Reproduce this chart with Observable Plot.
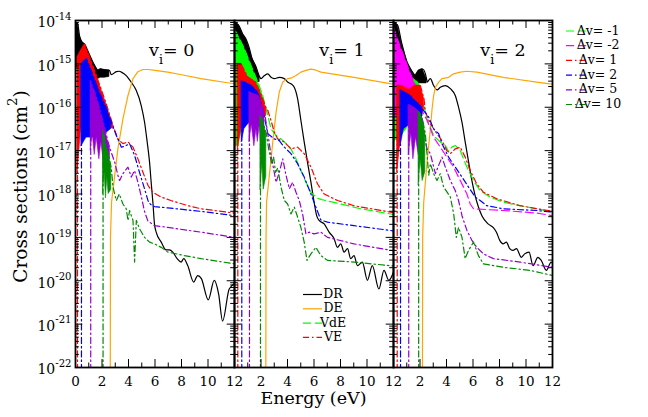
<!DOCTYPE html>
<html>
<head>
<meta charset="utf-8">
<script src="https://cdn.jsdelivr.net/npm/d3@7"></script>
<script src="https://cdn.jsdelivr.net/npm/@observablehq/plot@0.6"></script>
<style>
  body { margin: 0; background: #fff; }
  svg text { font-family: "DejaVu Serif", serif; }
</style>
</head>
<body>
<div id="chart"></div>
<script>
/* Panels v_i = 0, 1, 2 ; energies in eV ; values are log10(cross section / cm^2) */
const panels = [0, 1, 2];
const panelText = ["v_{i}= 0", "v_{i}= 1", "v_{i}= 2"];
const panelTextX = [5.55, 6.4, 6.55];
const xMajor = [0, 2, 4, 6, 8, 10, 12];
const xMinor = [1, 3, 5, 7, 9, 11];
const yDecades = [-22, -21, -20, -19, -18, -17, -16, -15, -14];

/* ---- v_i = 0 ---- */
const dr0Band = [[0,-14.1,-15.0],[0.15,-14.05,-15.1],[0.3,-14.35,-15.1],[0.5,-14.5,-15.2],[0.7,-14.55,-15.25],[1.0,-14.75,-15.3],[1.3,-14.95,-15.35],[1.7,-15.15,-15.35],[1.9,-15.12,-15.32],[2.2,-15.14,-15.32],[2.56,-15.15,-15.3]];
const dr0 = [[2.7,-15.25],[3.08,-15.18],[3.3,-15.17],[3.46,-15.19],[3.83,-15.27],[4.2,-15.42],[4.58,-15.61],[4.96,-15.96],[5.21,-16.34],[5.41,-16.8],[5.59,-17.27],[5.71,-17.73],[5.84,-18.19],[5.96,-18.69],[6.09,-18.88],[6.47,-19.11],[6.84,-19.29],[7.09,-19.29],[7.34,-19.34],[7.67,-19.49],[7.97,-19.57],[8.17,-19.49],[8.47,-19.65],[8.92,-20.03],[9.22,-19.88],[9.5,-19.95],[10.02,-20.44],[10.47,-19.99],[10.8,-20.3],[11.1,-20.93],[11.6,-20.19],[12,-20.07]];
const de0 = [[2.62,-23],[2.64,-19],[2.72,-18.19],[2.96,-17.57],[3.2,-16.96],[3.58,-16.27],[3.96,-15.73],[4.34,-15.34],[4.71,-15.18],[5.09,-15.13],[5.5,-15.13],[6.0,-15.15],[6.97,-15.19],[8.0,-15.25],[9.47,-15.34],[12,-15.46]];
const up1v0Band = [[0.15,-14.85,-17.5],[0.4,-14.7,-16.6],[0.7,-14.55,-16.0],[1.2,-14.95,-16.2],[1.7,-15.38,-16.3],[2.3,-15.9,-16.4],[2.83,-16.42,-16.5]];
const up1v0 = [[3.2,-16.73],[3.58,-16.84],[3.96,-16.8],[4.34,-16.92],[4.71,-17.19],[5.09,-17.5],[5.47,-17.8],[5.84,-17.96],[6.47,-18.07],[7.2,-18.15],[8.5,-18.27],[9.47,-18.34],[12,-18.44]];
const up2v0Band = [[0.45,-15.0,-16.9],[0.83,-14.88,-16.7],[1.3,-15.25,-16.7],[1.8,-15.65,-16.6],[2.3,-16.0,-16.6],[2.7,-16.34,-16.5]];
const up2v0 = [[3.08,-16.65],[3.46,-16.92],[3.7,-16.9],[4.08,-16.84],[4.46,-17.11],[4.83,-17.5],[5.21,-17.88],[5.51,-18.19],[5.71,-18.25],[5.96,-18.29],[6.97,-18.32],[9.47,-18.4],[12,-18.5]];
const up5v0Band = [[1.15,-15.4,-17.0],[1.3,-15.55,-16.6],[1.45,-15.65,-17.1],[1.6,-15.8,-16.7],[1.8,-16.0,-17.2],[1.95,-16.19,-16.8],[2.15,-16.4,-17.3],[2.3,-16.6,-16.9],[2.46,-16.8,-17.3],[2.6,-16.95,-17.2]];
const up5v0 = [[2.96,-17.27],[3.2,-17.57],[3.33,-17.69],[3.58,-17.53],[3.96,-17.38],[4.21,-17.61],[4.46,-17.46],[4.71,-17.73],[4.96,-18.05],[5.21,-18.4],[5.46,-18.62],[5.96,-18.73],[6.97,-18.77],[9.47,-18.88],[12,-19.0]];
const up10v0Band = [[2.08,-16.55,-18.0],[2.2,-16.75,-17.5],[2.3,-16.9,-18.1],[2.4,-17.0,-17.6],[2.5,-17.1,-18.0],[2.7,-17.4,-17.9]];
const up10v0 = [[2.83,-17.84],[3.08,-18.15],[3.3,-18.0],[3.58,-18.23],[3.83,-18.34],[3.96,-18.61],[4.08,-18.38],[4.34,-18.61],[4.46,-19.57],[4.59,-18.61],[4.83,-18.8],[5.21,-19.0],[5.59,-19.11],[5.96,-19.15],[6.47,-19.23],[6.97,-19.34],[8.22,-19.42],[9.47,-19.49],[12,-19.61]];

/* ---- v_i = 1 ---- */
const dr1Band = [[0,-14.05,-15.3],[0.3,-14.1,-15.3],[0.6,-14.3,-15.3],[0.9,-14.45,-15.3],[1.13,-14.65,-15.35],[1.3,-14.85,-15.4],[1.6,-15.05,-15.42],[1.9,-15.3,-15.42]];
const dr1 = [[2.0,-15.34],[2.26,-15.27],[2.51,-15.23],[2.76,-15.31],[3.0,-15.34],[3.38,-15.31],[3.76,-15.34],[4.01,-15.42],[4.26,-15.46],[4.51,-15.54],[4.76,-15.8],[5.01,-16.3],[5.26,-16.8],[5.51,-17.27],[5.77,-17.73],[6.01,-18.19],[6.2,-18.5],[6.39,-18.61],[6.77,-18.69],[7.14,-18.88],[7.52,-19.03],[7.77,-19.23],[8.02,-19.15],[8.27,-19.34],[8.53,-19.26],[8.77,-19.49],[9.02,-19.42],[9.28,-19.65],[9.65,-19.57],[10.03,-19.99],[10.4,-19.65],[10.9,-20.19],[11.28,-19.76],[11.65,-19.99],[12,-19.8]];
const de1 = [[2.36,-23],[2.38,-19],[2.42,-18.19],[2.63,-17.57],[2.89,-16.8],[3.14,-16.11],[3.38,-15.65],[3.64,-15.42],[4.01,-15.34],[4.26,-15.33],[4.64,-15.27],[5.01,-15.19],[5.39,-15.15],[5.76,-15.12],[6.1,-15.14],[6.52,-15.19],[9.02,-15.31],[12,-15.47]];
const dn1v1Band = [[0,-14.2,-16.9],[0.25,-14.35,-16.9],[0.75,-14.65,-16.3],[1.25,-15.04,-16.2],[1.76,-15.42,-16.1],[2.13,-15.73,-16.0]];
const dn1v1 = [[2.51,-16.19],[2.76,-16.5],[3.14,-16.65],[3.51,-16.73],[3.89,-16.84],[4.26,-16.96],[4.64,-17.19],[5.01,-17.46],[5.39,-17.73],[5.76,-17.96],[6.27,-18.1],[6.6,-18.13],[8.02,-18.23],[9.52,-18.34],[12,-18.47]];
const up1v1Band = [[0.25,-15.0,-17.0],[0.5,-15.0,-16.5],[1.0,-15.3,-16.4],[1.6,-15.42,-16.2],[2.0,-15.7,-16.3],[2.4,-16.03,-16.2]];
const up1v1 = [[2.51,-16.07],[2.76,-16.31],[3.0,-16.57],[3.26,-16.73],[3.76,-16.8],[4.26,-16.96],[4.76,-16.92],[5.26,-17.07],[5.77,-17.38],[6.27,-17.77],[6.77,-18.0],[7.77,-18.15],[9.02,-18.27],[10.28,-18.34],[12,-18.43]];
const up2v1Band = [[0.55,-15.4,-16.8],[0.75,-15.42,-16.5],[1.25,-15.5,-16.3],[1.76,-15.65,-16.4],[2.13,-16.03,-16.5]];
const up2v1 = [[2.51,-16.61],[3.0,-16.73],[3.38,-16.77],[3.76,-16.92],[4.26,-17.07],[4.76,-17.3],[5.26,-17.61],[5.77,-18.0],[6.14,-18.3],[6.52,-18.6],[7.02,-18.65],[9.02,-18.73],[12,-18.85]];
const up5v1Band = [[1.13,-15.65,-16.8],[1.3,-15.68,-16.4],[1.5,-15.7,-16.9],[1.65,-15.72,-16.5],[1.76,-15.73,-16.8],[1.9,-15.8,-16.4],[2.0,-15.9,-16.8],[2.26,-16.11,-16.8]];
const up5v1 = [[2.51,-16.6],[2.76,-17.11],[3.14,-17.73],[3.38,-17.5],[3.64,-17.19],[3.89,-17.57],[4.14,-17.88],[4.39,-17.73],[4.64,-17.96],[4.89,-18.15],[5.14,-18.46],[5.39,-18.92],[5.64,-18.88],[6.01,-18.92],[6.52,-18.88],[7.02,-19.0],[9.02,-19.15],[12,-19.31]];
const up10v1Band = [[1.96,-16.2,-17.9],[2.1,-16.3,-17.3],[2.2,-16.4,-17.9],[2.4,-16.6,-17.6]];
const up10v1 = [[2.6,-17.0],[2.8,-17.3],[2.95,-17.15],[3.1,-17.5],[3.26,-17.4],[3.51,-17.84],[3.76,-18.15],[4.01,-18.23],[4.26,-18.46],[4.51,-18.3],[4.76,-18.53],[5.01,-18.77],[5.26,-19.11],[5.47,-19.53],[5.77,-19.38],[6.14,-19.23],[6.52,-19.42],[7.02,-19.53],[9.02,-19.57],[12,-19.66]];

/* ---- v_i = 2 ---- */
const dr2Band = [[0,-14.05,-15.2],[0.3,-14.1,-15.2],[0.6,-14.5,-15.3],[1.03,-14.96,-15.35],[1.28,-15.11,-15.4],[1.65,-15.27,-15.45],[1.9,-15.15,-15.45],[2.2,-15.12,-15.45],[2.5,-15.35,-15.45]];
const dr2 = [[2.53,-15.42],[2.78,-15.34],[3.03,-15.5],[3.29,-15.6],[3.53,-15.54],[3.91,-15.5],[4.29,-15.57],[4.66,-15.73],[4.91,-16.0],[5.17,-16.35],[5.41,-16.8],[5.66,-17.25],[5.92,-17.7],[6.17,-18.05],[6.41,-18.3],[6.67,-18.5],[7.14,-18.69],[7.52,-18.77],[7.77,-18.88],[8.02,-19.07],[8.27,-19.15],[8.52,-19.11],[8.77,-19.26],[9.02,-19.3],[9.28,-19.26],[9.65,-19.46],[9.9,-19.38],[10.23,-19.34],[10.53,-19.65],[10.9,-19.46],[11.15,-19.53],[11.53,-19.76],[11.9,-19.57],[12,-19.6]];
const de2 = [[2.18,-23],[2.2,-19],[2.28,-18.19],[2.53,-17.27],[2.78,-16.5],[2.91,-16.04],[3.03,-15.73],[3.16,-15.54],[3.41,-15.42],[3.66,-15.34],[4.16,-15.31],[4.54,-15.23],[5.04,-15.19],[5.54,-15.17],[6.29,-15.19],[8.29,-15.31],[10.8,-15.42],[12,-15.47]];
const dn1v2Band = [[0,-14.9,-16.8],[0.5,-15.3,-16.7],[1.0,-15.3,-16.5],[1.28,-15.33,-15.6],[1.6,-15.36,-15.6],[1.88,-15.45,-15.6]];
const dn1v2 = [[2.28,-15.96],[2.53,-16.27],[3.03,-16.65],[3.53,-16.8],[3.91,-16.88],[4.16,-17.02],[4.4,-16.92],[4.66,-16.88],[5.04,-17.0],[5.54,-17.38],[6.04,-17.69],[6.54,-17.92],[7.29,-18.07],[8.29,-18.19],[9.55,-18.27],[10.8,-18.34],[12,-18.42]];
const dn2v2Band = [[0,-14.15,-16.3],[0.28,-14.42,-16.2],[0.78,-14.81,-16.0],[1.28,-15.23,-15.9],[1.6,-15.45,-15.8]];
const dn2v2 = [[2.0,-16.0],[2.53,-16.3],[3.03,-16.69],[3.53,-16.92],[4.03,-17.15],[4.54,-17.38],[5.04,-17.69],[5.54,-18.0],[5.79,-18.23],[6.04,-18.34],[6.5,-18.35],[8.29,-18.38],[10.8,-18.44],[12,-18.5]];
const up1v2Band = [[0.28,-15.5,-17.5],[0.6,-15.5,-16.6],[1.2,-15.6,-16.3],[1.6,-15.5,-16.1],[2.03,-15.5,-16.1],[2.3,-15.8,-16.1]];
const up1v2 = [[2.4,-16.1],[2.78,-16.38],[3.28,-16.61],[3.66,-16.77],[4.03,-17.0],[4.29,-17.07],[4.66,-16.96],[5.04,-16.92],[5.41,-17.15],[5.79,-17.46],[6.29,-17.77],[6.79,-17.96],[7.79,-18.11],[9.55,-18.27],[12,-18.4]];
const up2v2Band = [[0.53,-15.6,-16.9],[0.78,-15.65,-16.5],[1.28,-15.73,-16.4],[1.6,-15.85,-16.35],[2.03,-15.96,-16.3],[2.2,-16.05,-16.2]];
const up2v2 = [[2.66,-16.23],[3.03,-16.5],[3.41,-16.61],[3.66,-16.84],[4.16,-17.15],[4.66,-17.38],[5.17,-17.61],[5.66,-17.84],[6.17,-18.07],[6.54,-18.15],[7.04,-18.27],[8.29,-18.34],[10.8,-18.38],[12,-18.42]];
const up5v2Band = [[1.15,-15.95,-17.1],[1.35,-15.97,-16.6],[1.5,-16.0,-17.2],[1.7,-16.05,-16.7],[1.9,-16.1,-17.1],[2.2,-16.3,-17.0]];
const up5v2 = [[2.28,-16.57],[2.53,-16.96],[2.78,-17.07],[3.16,-17.53],[3.41,-17.34],[3.66,-17.15],[3.91,-17.38],[4.29,-17.69],[4.66,-17.92],[4.91,-18.15],[5.17,-18.5],[5.54,-18.84],[5.92,-19.07],[6.29,-19.23],[6.79,-19.38],[7.54,-19.49],[9.55,-19.57],[12,-19.69]];
const up10v2Band = [[1.9,-16.1,-17.8],[2.05,-16.18,-17.2],[2.2,-16.3,-17.7],[2.4,-16.6,-17.5]];
const up10v2 = [[2.66,-17.57],[2.78,-17.3],[3.03,-17.53],[3.28,-17.69],[3.53,-17.53],[3.78,-17.84],[4.29,-18.07],[4.54,-18.45],[4.74,-19.0],[4.91,-18.77],[5.17,-19.0],[5.41,-19.49],[5.66,-19.3],[6.04,-19.11],[6.41,-19.42],[6.79,-19.61],[8.29,-19.69],[10.3,-19.76],[12,-19.88]];

/* series styles, in drawing order */
const series = [
  {key: "DR",   color: "#000000", dash: null,        curve: "monotone-x"},
  {key: "DE",   color: "#ffa500", dash: null,        curve: "linear"},
  {key: "dv-1", color: "#00ff00", dash: "8,4",       curve: "linear"},
  {key: "dv-2", color: "#ff00ff", dash: "8,4",       curve: "linear"},
  {key: "dv1",  color: "#ff0000", dash: "6,3,1.5,3", curve: "linear"},
  {key: "dv2",  color: "#0000ff", dash: "6,3,1.5,3", curve: "linear"},
  {key: "dv5",  color: "#9400d3", dash: "6,3,1.5,3", curve: "linear"},
  {key: "dv10", color: "#008b00", dash: "6,3,1.5,3", curve: "linear"}
];

/* curve = series, panel, threshold (vertical drop) or null, spike band, smooth tail */
const curves = [
  ["DR", 0, null, dr0Band, dr0], ["DE", 0, null, [], de0],
  ["dv1", 0, 0.15, up1v0Band, up1v0], ["dv2", 0, 0.45, up2v0Band, up2v0],
  ["dv5", 0, 1.15, up5v0Band, up5v0], ["dv10", 0, 2.08, up10v0Band, up10v0],
  ["DR", 1, null, dr1Band, dr1], ["DE", 1, null, [], de1],
  ["dv-1", 1, null, dn1v1Band, dn1v1],
  ["dv1", 1, 0.25, up1v1Band, up1v1], ["dv2", 1, 0.55, up2v1Band, up2v1],
  ["dv5", 1, 1.13, up5v1Band, up5v1], ["dv10", 1, 1.96, up10v1Band, up10v1],
  ["DR", 2, null, dr2Band, dr2], ["DE", 2, null, [], de2],
  ["dv-1", 2, null, dn1v2Band, dn1v2], ["dv-2", 2, null, dn2v2Band, dn2v2],
  ["dv1", 2, 0.28, up1v2Band, up1v2], ["dv2", 2, 0.53, up2v2Band, up2v2],
  ["dv5", 2, 1.15, up5v2Band, up5v2], ["dv10", 2, 1.9, up10v2Band, up10v2]
];

const lineRows = [];
const bandRows = [];
curves.forEach(([key, panel, thr, band, tail]) => {
  if (thr !== null) lineRows.push({key, panel, x: thr, y: 1e-23});
  band.forEach(([x, hi, lo]) => {
    bandRows.push({key, panel, x, y1: 10 ** hi, y2: 10 ** lo});
    lineRows.push({key, panel, x, y: 10 ** hi});
  });
  tail.forEach(([x, v]) => lineRows.push({key, panel, x, y: 10 ** v}));
});

const yMajor = yDecades.map(e => 10 ** e);
const yMinor = yDecades.slice(0, -1).flatMap(e => [2, 3, 4, 5, 6, 7, 8, 9].map(k => k * 10 ** e));
const xTickRows = panels.flatMap(p => xMajor.filter(v => p === 0 || v > 0).map(v => ({panel: p, x: v})));
const panelRows = panels.map(p => ({panel: p, x: panelTextX[p], text: panelText[p]}));

const W = 648, H = 417, mL = 74, mR = 95, mT = 20, mB = 50;
const frameH = H - mT - mB;
const facetW = (W - mL - mR) / panels.length;
const serif = "'DejaVu Serif', serif";

const dataMarks = series.flatMap(s => [
  Plot.areaY(bandRows.filter(d => d.key === s.key), {
    fx: "panel", x: "x", y1: "y1", y2: "y2", z: "panel",
    fill: s.color, stroke: s.color, strokeWidth: 0.6, clip: true
  }),
  Plot.line(lineRows.filter(d => d.key === s.key), {
    fx: "panel", x: "x", y: "y", z: "panel", curve: s.curve,
    stroke: s.color, strokeWidth: 1.2, strokeDasharray: s.dash, clip: true
  })
]);

const chart = Plot.plot({
  width: W, height: H,
  marginLeft: mL, marginRight: mR, marginTop: mT, marginBottom: mB,
  style: {fontFamily: serif, background: "white", color: "black"},
  fx: {domain: panels, padding: 0, axis: null, label: null},
  x: {domain: [0, 12], axis: null},
  y: {type: "log", domain: [1e-22, 1e-14], label: null},
  marks: [
    ...dataMarks,
    // inward ticks on every side of every panel
    Plot.tickX(xMajor, {x: d => d, insetTop: frameH - 8, strokeWidth: 1}),
    Plot.tickX(xMajor, {x: d => d, insetBottom: frameH - 8, strokeWidth: 1}),
    Plot.tickX(xMinor, {x: d => d, insetTop: frameH - 4.5, strokeWidth: 1}),
    Plot.tickX(xMinor, {x: d => d, insetBottom: frameH - 4.5, strokeWidth: 1}),
    Plot.tickY(yMajor, {y: d => d, insetRight: facetW - 8, strokeWidth: 1}),
    Plot.tickY(yMajor, {y: d => d, insetLeft: facetW - 8, strokeWidth: 1}),
    Plot.tickY(yMinor, {y: d => d, insetRight: facetW - 4.5, strokeWidth: 1}),
    Plot.tickY(yMinor, {y: d => d, insetLeft: facetW - 4.5, strokeWidth: 1}),
    Plot.frame({stroke: "black", strokeWidth: 1.8}),
    Plot.axisY({
      ticks: yMajor, tickSize: 0, tickPadding: 4, fontSize: 14, dy: 2.5,
      tickFormat: d => `10^{${Math.round(Math.log10(d))}}`, label: null, facetAnchor: "left"
    }),
    Plot.text(xTickRows, {
      fx: "panel", x: "x", text: d => String(d.x), frameAnchor: "bottom",
      lineAnchor: "bottom", dy: 18, fontSize: 13.5, fill: "black"
    }),
    Plot.text(panelRows, {
      fx: "panel", x: "x", text: "text", frameAnchor: "top", lineAnchor: "bottom",
      textAnchor: "start", dy: 35, fontSize: 17.5, fill: "black"
    })
  ]
});

/* turn ^{..} and _{..} into superscript / subscript tspans */
function rich(node, fs) {
  const parts = node.textContent.split(/([\^_]\{[^}]*\})/).filter(p => p !== "");
  if (parts.length < 2) return;
  node.textContent = "";
  let cur = 0;
  parts.forEach(p => {
    const sup = p.startsWith("^{"), sub = p.startsWith("_{");
    const target = sup ? -0.55 * fs : sub ? 0.5 * fs : 0;
    const t = document.createElementNS("http://www.w3.org/2000/svg", "tspan");
    t.textContent = sup || sub ? p.slice(2, -1) : p;
    if (target !== cur) t.setAttribute("dy", target - cur);
    if (sup || sub) t.setAttribute("font-size", 0.72 * fs);
    node.appendChild(t);
    cur = target;
  });
}

const svg = d3.select(chart);

/* axis titles */
svg.append("text")
  .attr("transform", `translate(27,${mT + frameH / 2 - 7}) rotate(-90)`)
  .attr("text-anchor", "middle").attr("font-size", 18.5)
  .text("Cross sections (cm^{2})");
svg.append("text")
  .attr("x", mL + (W - mL - mR) / 2).attr("y", 404)
  .attr("text-anchor", "middle").attr("font-size", 17.5)
  .text("Energy (eV)");

/* legends */
function legend(items, x0, x1, xt, y0, step) {
  const g = svg.append("g").attr("font-size", 12.5);
  items.forEach((it, i) => {
    const y = y0 + i * step;
    g.append("line").attr("x1", x0).attr("x2", x1).attr("y1", y - 3.5).attr("y2", y - 3.5)
      .attr("stroke", it.color).attr("stroke-width", 1.2)
      .attr("stroke-dasharray", it.dash);
    g.append("text").attr("x", xt).attr("y", y).text(it.label);
  });
}
const sty = k => series.find(s => s.key === k);
legend([
  {label: "Δv= -1", ...sty("dv-1")}, {label: "Δv= -2", ...sty("dv-2")},
  {label: "Δv= 1", ...sty("dv1")}, {label: "Δv= 2", ...sty("dv2")},
  {label: "Δv= 5", ...sty("dv5")}, {label: "Δv= 10", ...sty("dv10")}
], 566, 587, 598, 34.5, 14.7);
legend([
  {label: "DR", ...sty("DR")}, {label: "DE", ...sty("DE")},
  {label: "VdE", ...sty("dv-1")}, {label: "VE", ...sty("dv1")}
], 303, 322, 333, 298, 14.3);

document.getElementById("chart").appendChild(chart);

/* rich text after attaching, so computed font sizes are known */
svg.selectAll("text").each(function() {
  if (/[\^_]\{/.test(this.textContent)) rich(this, parseFloat(getComputedStyle(this).fontSize));
});
</script>
</body>
</html>
